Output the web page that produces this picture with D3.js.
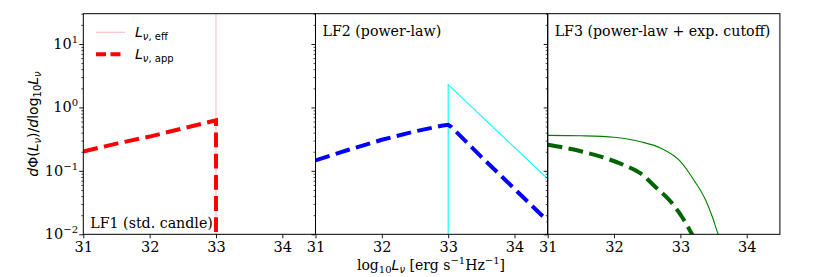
<!DOCTYPE html>
<html><head><meta charset="utf-8">
<script src="https://cdn.jsdelivr.net/npm/d3@7"></script>
<style>
body{margin:0;background:#fff;}
svg{display:block;}
.tick text{font-family:"DejaVu Serif",serif;font-size:14.5px;fill:#000;}
</style></head>
<body><svg id="c" width="830" height="277"></svg>
<script>
// ---- data ----
const xTicks = [31, 32, 33, 34];
const xDomain = [31, 34.5];
const yDomain = [0.01, 30];
const yTickValues = [0.01, 0.1, 1, 10];
const yTickExps = ["\u22122", "\u22121", "0", "1"];
const panelTitles = ["LF1 (std. candle)", "LF2 (power-law)", "LF3 (power-law + exp. cutoff)"];

// LF1: standard candle
const lf1EffLogL = [33, 33];
const lf1EffVal = [0.001, 100];
const lf1AppLogL = [31, 31.5, 32, 32.5, 33, 33];
const lf1AppVal = [0.202, 0.269, 0.347, 0.468, 0.624, 0.001];

// LF2: power-law
const lf2EffLogL = [33, 33, 34.5];
const lf2EffVal = [0.001, 2.28, 0.075];
const lf2AppLogL = [31, 31.5, 32, 32.5, 32.9, 33, 33.05, 33.5, 34, 34.5];
const lf2AppVal = [0.146, 0.215, 0.309, 0.419, 0.513, 0.533, 0.49, 0.166, 0.052, 0.0162];

// LF3: power-law + exponential cutoff
const lf3EffLogL = [31, 31.5, 32, 32.2, 32.4, 32.7, 33, 33.2, 33.38, 33.48, 33.57, 33.6];
const lf3EffVal = [0.363, 0.357, 0.338, 0.318, 0.288, 0.229, 0.141, 0.0724, 0.0347, 0.0191, 0.0100, 0.0083];
const lf3AppLogL = [31, 31.5, 31.9, 32.2, 32.4, 32.62, 32.85, 33.02, 33.14, 33.2];
const lf3AppVal = [0.258, 0.204, 0.155, 0.117, 0.0912, 0.0562, 0.0331, 0.0191, 0.0117, 0.0089];

const panels = [
  {eff: [lf1EffLogL, lf1EffVal], app: [lf1AppLogL, lf1AppVal], effColor: "#ffc0cb", appColor: "#ff0000", smooth: false, titleTop: false},
  {eff: [lf2EffLogL, lf2EffVal], app: [lf2AppLogL, lf2AppVal], effColor: "#00ffff", appColor: "#0000ff", smooth: false, titleTop: true},
  {eff: [lf3EffLogL, lf3EffVal], app: [lf3AppLogL, lf3AppVal], effColor: "#008000", appColor: "#006400", smooth: true, titleTop: true}
];

// ---- layout ----
const padL = 83.3, pw = 232.2, padT = 13.7, padB = 234.3;
const svg = d3.select("#c");
const y = d3.scaleLog().domain(yDomain).range([padB, padT]);
const minorVals = y.ticks().filter(v => !yTickValues.some(t => Math.abs(t - v) / t < 1e-6));

panels.forEach((p, i) => {
  const x0 = padL + i * pw;
  const x = d3.scaleLinear().domain(xDomain).range([x0, x0 + pw]);
  const g = svg.append("g");
  const cid = "clip" + i;
  svg.append("clipPath").attr("id", cid).append("rect")
    .attr("x", x0).attr("y", padT).attr("width", pw).attr("height", padB - padT);

  const line = d3.line().x(d => x(d[0])).y(d => y(d[1]))
    .curve(p.smooth ? d3.curveMonotoneX : d3.curveLinear);
  const pts = a => a[0].map((v, k) => [v, a[1][k]]);

  const lines = g.append("g").attr("clip-path", `url(#${cid})`);
  lines.append("path").attr("d", line(pts(p.eff))).attr("fill", "none")
    .attr("stroke", p.effColor).attr("stroke-width", 1.1);
  lines.append("path").attr("d", line(pts(p.app))).attr("fill", "none")
    .attr("stroke", p.appColor).attr("stroke-width", 4)
    .attr("stroke-dasharray", "14.8,6.4");

  // x axis
  const xa = g.append("g").attr("transform", `translate(0,${padB})`)
    .call(d3.axisBottom(x).tickValues(xTicks).tickFormat(d3.format("d")).tickSize(4).tickPadding(3));
  xa.select(".domain").remove();
  xa.selectAll(".tick line").attr("stroke", "#000").attr("stroke-width", 0.9);

  // y axis major/minor
  const ya = g.append("g").attr("transform", `translate(${x0},0)`)
    .call(d3.axisLeft(y).tickValues(yTickValues).tickFormat("").tickSize(4));
  ya.select(".domain").remove();
  ya.selectAll(".tick line").attr("stroke", "#000").attr("stroke-width", 0.9);
  const ym = g.append("g").attr("transform", `translate(${x0},0)`)
    .call(d3.axisLeft(y).tickValues(minorVals).tickFormat("").tickSize(2));
  ym.select(".domain").remove();
  ym.selectAll(".tick line").attr("stroke", "#000").attr("stroke-width", 0.7);

  // frame
  g.append("rect").attr("x", x0).attr("y", padT).attr("width", pw).attr("height", padB - padT)
    .attr("fill", "none").attr("stroke", "#000").attr("stroke-width", 1);

  // title
  g.append("text").attr("x", x0 + 7).attr("y", p.titleTop ? 36 : 228)
    .attr("font-family", "DejaVu Serif").attr("font-size", 14.2).text(panelTitles[i]);

  if (i === 0) {
    yTickValues.forEach((v, k) => {
      const t = svg.append("text").attr("x", 78).attr("y", y(v) + 5)
        .attr("text-anchor", "end").attr("font-family", "DejaVu Serif").attr("font-size", 14.5);
      t.append("tspan").text("10");
      t.append("tspan").attr("dy", -6).attr("font-size", 10).text(yTickExps[k]);
    });
  }
});

// legend
const leg = [
  {color: "#ffc0cb", w: 1.2, dash: null, sub: "eff", yy: 32.3},
  {color: "#ff0000", w: 4, dash: "10,4.5", sub: "app", yy: 54.3}
];
leg.forEach(l => {
  svg.append("line").attr("x1", 96).attr("x2", 125).attr("y1", l.yy).attr("y2", l.yy)
    .attr("stroke", l.color).attr("stroke-width", l.w).attr("stroke-dasharray", l.dash);
  const t = svg.append("text").attr("x", 135).attr("y", l.yy + 5)
    .attr("font-family", "DejaVu Sans").attr("font-size", 14);
  t.append("tspan").attr("font-style", "italic").text("L");
  t.append("tspan").attr("dy", 3).attr("font-size", 10).attr("font-style", "italic").text("\u03bd");
  t.append("tspan").attr("font-size", 10).text(", " + l.sub);
});

// y label
const yl = svg.append("text").attr("transform", "translate(38,124) rotate(-90)")
  .attr("text-anchor", "middle").attr("font-family", "DejaVu Sans").attr("font-size", 14);
yl.append("tspan").attr("font-style", "italic").text("d");
yl.append("tspan").text("\u03a6(");
yl.append("tspan").attr("font-style", "italic").text("L");
yl.append("tspan").attr("font-style", "italic").attr("font-size", 10).attr("dy", 3).text("\u03bd");
yl.append("tspan").attr("dy", -3).text(")/");
yl.append("tspan").attr("font-style", "italic").text("d");
yl.append("tspan").text("log");
yl.append("tspan").attr("font-size", 10).attr("dy", 3).text("10");
yl.append("tspan").attr("dy", -3).attr("font-style", "italic").text("L");
yl.append("tspan").attr("font-style", "italic").attr("font-size", 10).attr("dy", 3).text("\u03bd");

// x label
const xl = svg.append("text").attr("x", 431).attr("y", 270).attr("text-anchor", "middle")
  .attr("font-family", "DejaVu Serif").attr("font-size", 14);
xl.append("tspan").text("log");
xl.append("tspan").attr("font-size", 10).attr("dy", 3).text("10");
xl.append("tspan").attr("dy", -3).attr("font-family", "DejaVu Sans").attr("font-style", "italic").text("L");
xl.append("tspan").attr("font-family", "DejaVu Sans").attr("font-style", "italic").attr("font-size", 10).attr("dy", 3).text("\u03bd");
xl.append("tspan").attr("dy", -3).text(" [erg s");
xl.append("tspan").attr("font-size", 10).attr("dy", -6).text("\u22121");
xl.append("tspan").attr("dy", 6).text("Hz");
xl.append("tspan").attr("font-size", 10).attr("dy", -6).text("\u22121");
xl.append("tspan").attr("dy", 6).text("]");
</script></body></html>
